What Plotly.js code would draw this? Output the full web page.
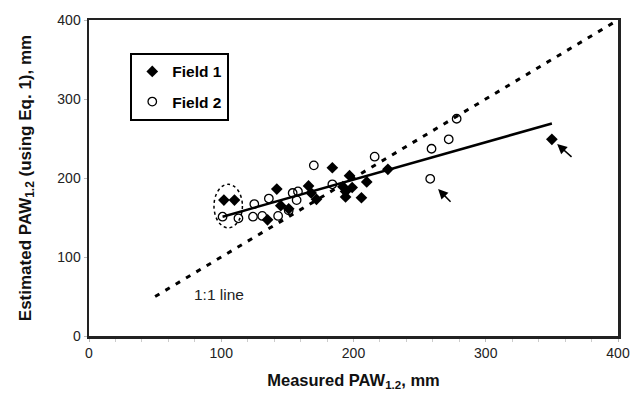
<!DOCTYPE html>
<html>
<head>
<meta charset="utf-8">
<script src="https://cdn.plot.ly/plotly-3.0.1.min.js"></script>
<style>html,body{margin:0;padding:0;background:#fff}#chart{width:633px;height:396px}</style>
</head>
<body>
<div id="chart"></div>
<script>
// Field 1 (filled diamonds)
const field1X = [102, 110, 135, 142, 145, 151, 166, 168, 172, 184, 192, 194, 194, 197, 199, 206, 210, 226, 350];
const field1Y = [172, 172, 147, 186, 165, 161, 190, 181, 173, 213, 189, 183, 176, 203, 188, 175, 195, 211, 249];
// Field 2 (open circles)
const field2X = [101, 113, 124, 125, 131, 136, 143, 151, 154, 158, 157, 170, 184, 216, 258, 259, 272, 278];
const field2Y = [151, 149, 151, 167, 152, 174, 152, 159, 181, 183, 172, 216, 192, 227, 199, 237, 249, 275];
// fitted regression line end points
const fitX = [101, 350];
const fitY = [151, 269];
// 1:1 line
const oneX = [50, 400];
const oneY = [50, 400];
const xTicks = [0, 100, 200, 300, 400];
const yTicks = [0, 100, 200, 300, 400];

const font = "Liberation Sans, Arial, sans-serif";

const traces = [
  {x: oneX, y: oneY, mode: 'lines', showlegend: false, hoverinfo: 'skip',
   line: {color: '#000', width: 3, dash: '5px,7px'}},
  {x: fitX, y: fitY, mode: 'lines', showlegend: false, hoverinfo: 'skip',
   line: {color: '#000', width: 2.5}},
  {x: field1X, y: field1Y, mode: 'markers', name: '<b>Field 1</b>', legendgroup: 'a',
   marker: {symbol: 'diamond', size: 9, color: '#000'}},
  {x: field2X, y: field2Y, mode: 'markers', name: '<b>Field 2</b>', legendgroup: 'b',
   marker: {symbol: 'circle-open', size: 8.5, color: '#000', line: {width: 1.3, color: '#000'}}}
];

const layout = {
  width: 633, height: 396,
  margin: {l: 89, r: 15, t: 20, b: 60},
  paper_bgcolor: '#fff', plot_bgcolor: '#fff',
  font: {family: font, size: 14, color: '#222'},
  showlegend: true,
  legend: {x: 0.078, y: 0.896, xanchor: 'left', yanchor: 'top',
           bordercolor: '#000', borderwidth: 2, bgcolor: '#fff',
           font: {family: font, size: 15.5, color: '#000'},
           traceorder: 'grouped', tracegroupgap: 7, itemwidth: 30},
  xaxis: {range: [0, 400], tickvals: xTicks, ticktext: xTicks.map(String),
          showgrid: false, zeroline: false, showline: true, mirror: true,
          linecolor: '#222', linewidth: 2.5, ticks: 'outside', ticklen: 3, tickcolor: '#bbb',
          minor: {dtick: 20, ticks: 'outside', ticklen: 3, tickcolor: '#ccc', showgrid: false},
          tickfont: {size: 14, color: '#222'},
          title: {text: '<b>Measured PAW<sub>1.2</sub>, mm</b>', font: {size: 16.5, color: '#111'}, standoff: 14}},
  yaxis: {range: [0, 400], tickvals: yTicks, ticktext: yTicks.map(String),
          showgrid: false, zeroline: false, showline: true, mirror: true,
          linecolor: '#222', linewidth: 2.5, ticks: 'outside', ticklen: 3, tickcolor: '#bbb',
          tickfont: {size: 14, color: '#222'},
          title: {text: '<b>Estimated PAW<sub>1.2</sub> (using Eq. 1), mm</b>', font: {size: 17, color: '#111'}, standoff: 22}},
  shapes: [
    {type: 'circle', xref: 'x', yref: 'y', x0: 94.5, x1: 116, y0: 137, y1: 192,
     line: {color: '#000', width: 1.5, dash: 'dot'}}
  ],
  annotations: [
    {x: 98, y: 52, xref: 'x', yref: 'y', text: '1:1 line', showarrow: false,
     font: {size: 15.5, color: '#222'}},
    {x: 354, y: 243, xref: 'x', yref: 'y', ax: 366, ay: 225, axref: 'x', ayref: 'y',
     text: '', showarrow: true, arrowhead: 2, arrowsize: 1.3, arrowwidth: 1.5, arrowcolor: '#000'},
    {x: 264, y: 186, xref: 'x', yref: 'y', ax: 274.5, ay: 168, axref: 'x', ayref: 'y',
     text: '', showarrow: true, arrowhead: 2, arrowsize: 1.3, arrowwidth: 1.5, arrowcolor: '#000'}
  ]
};

Plotly.newPlot('chart', traces, layout, {displayModeBar: false, staticPlot: true});
</script>
</body>
</html>
